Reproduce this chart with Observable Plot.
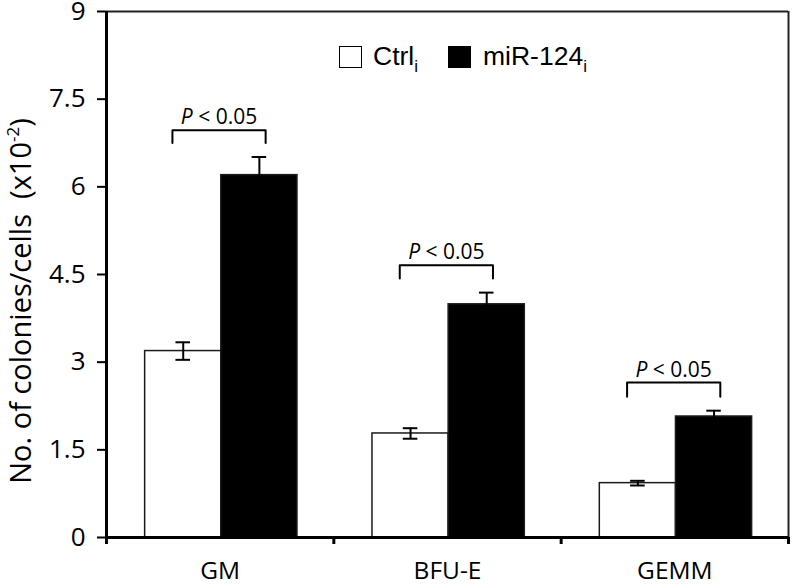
<!DOCTYPE html>
<html>
<head>
<meta charset="utf-8">
<script src="https://cdn.jsdelivr.net/npm/d3@7"></script>
<script src="https://cdn.jsdelivr.net/npm/@observablehq/plot@0.6"></script>
<style>
  body { margin: 0; background: #fff; }
  #wrap { position: relative; width: 792px; height: 586px; overflow: hidden; background: #fff; }
  #wrap svg { overflow: visible; }
  #ylabel { position: absolute; left: 19px; top: 301px; transform: translate(-50%, -50%) rotate(-90deg);
    white-space: nowrap; font-family: "Open Sans", sans-serif; font-size: 29px; line-height: 1; color: #000; }
  #ylabel sup { font-size: 17px; vertical-align: 12px; line-height: 0; }
  #legend { position: absolute; left: 339px; top: 41px; display: flex; align-items: center;
    font-family: "Liberation Sans", Arial, sans-serif; font-size: 26.5px; color: #000; }
  #legend .sw { width: 23px; height: 22px; border: 1.5px solid #000; box-sizing: border-box; display: inline-block; }
  #legend sub { font-size: 17px; vertical-align: -7px; line-height: 0; }
  #legend .item { display: flex; align-items: center; }
</style>
</head>
<body>
<div id="wrap"></div>
<script>
const categories = ["GM", "BFU-E", "GEMM"];
const seriesNames = ["Ctrl", "miR-124"];
const ctrlMean = [3.19, 1.78, 0.93];
const ctrlErr = [0.15, 0.09, 0.04];
const mirMean = [6.20, 3.99, 2.07];
const mirErr = [0.31, 0.20, 0.10];
const bracketTop = [6.97, 4.66, 2.65];
const bracketEnd = [6.75, 4.43, 2.41];
const pLabels = ["P < 0.05", "P < 0.05", "P < 0.05"];
const yTicks = [0, 1.5, 3, 4.5, 6, 7.5, 9];

// layout within each category band (band = 1 unit on x)
const barStart = 0.17, barMid = 0.505, barEnd = 0.84;
const capHalf = 0.032;
const brL = 0.29, brR = 0.70;

const bars = [];
categories.forEach((c, i) => {
  bars.push({cat: c, s: seriesNames[0], x1: i + barStart, x2: i + barMid, v: ctrlMean[i], e: ctrlErr[i]});
  bars.push({cat: c, s: seriesNames[1], x1: i + barMid, x2: i + barEnd, v: mirMean[i], e: mirErr[i]});
});
bars.forEach(d => { d.xc = (d.x1 + d.x2) / 2; });

const brackets = [];
categories.forEach((c, i) => {
  brackets.push({cat: c, x: i + brL, y: bracketEnd[i]});
  brackets.push({cat: c, x: i + brL, y: bracketTop[i]});
  brackets.push({cat: c, x: i + brR, y: bracketTop[i]});
  brackets.push({cat: c, x: i + brR, y: bracketEnd[i]});
});
const pData = categories.map((c, i) => ({x: i + (brL + brR) / 2, y: bracketTop[i], t: pLabels[i]}));

const chart = Plot.plot({
  width: 792,
  height: 586,
  marginLeft: 106,
  marginRight: 4,
  marginTop: 11,
  marginBottom: 49,
  style: {fontFamily: "Open Sans, sans-serif", color: "#000", background: "#fff", overflow: "visible"},
  x: {domain: [0, 3], axis: null},
  y: {domain: [0, 9], axis: null},
  marks: [
    Plot.rectY(bars, {x1: "x1", x2: "x2", y1: 0, y2: "v",
      fill: d => d.s === "Ctrl" ? "#fff" : "#000", stroke: "#1a1a1a", strokeWidth: 1.5}),
    Plot.ruleX(bars, {x: "xc", y1: d => d.v - d.e, y2: d => d.v + d.e, stroke: "#000", strokeWidth: 2}),
    Plot.ruleY(bars, {y: d => d.v + d.e, x1: d => d.xc - capHalf, x2: d => d.xc + capHalf, stroke: "#000", strokeWidth: 2}),
    Plot.ruleY(bars, {y: d => d.v - d.e, x1: d => d.xc - capHalf, x2: d => d.xc + capHalf, stroke: "#000", strokeWidth: 2}),
    Plot.line(brackets, {x: "x", y: "y", z: "cat", stroke: "#000", strokeWidth: 2}),
    Plot.text(pData, {x: "x", y: "y", text: "t", lineAnchor: "bottom", dy: -6, fontSize: 21, fill: "#000"}),
    Plot.ruleY([9], {stroke: "#222", strokeWidth: 2}),
    Plot.ruleX([3], {stroke: "#222", strokeWidth: 2}),
    Plot.ruleX([0], {stroke: "#000", strokeWidth: 3}),
    Plot.ruleY([0], {stroke: "#000", strokeWidth: 3}),
    Plot.axisY({ticks: yTicks, tickSize: 9, tickPadding: 12, tickFormat: d => String(d), fontSize: 26, strokeWidth: 2}),
    Plot.axisX({ticks: [0, 1, 2, 3], tickSize: 7, tickFormat: () => "", strokeWidth: 3}),
    Plot.axisX({ticks: categories.map((c, i) => i + 0.5), tickSize: 0, tickPadding: 24,
      tickFormat: d => categories[Math.floor(d)], fontSize: 24.5})
  ]
});

// enforce axis label font sizes (match by content)
const yTickStrings = new Set(yTicks.map(String));
const catStrings = new Set(categories);
d3.select(chart).selectAll("text").each(function () {
  const t = this.textContent.trim();
  if (yTickStrings.has(t)) this.style.fontSize = "26px";
  else if (catStrings.has(t)) this.style.fontSize = "24.5px";
});

// italic P in the significance labels
d3.select(chart).selectAll("text").each(function () {
  const t = this.textContent;
  if (t.startsWith("P <")) {
    const rest = t.slice(1);
    const sel = d3.select(this);
    sel.text(null);
    sel.append("tspan").attr("font-style", "italic").text("P");
    sel.append("tspan").text(rest);
  }
});

const wrap = document.getElementById("wrap");
wrap.appendChild(chart);

const yl = document.createElement("div");
yl.id = "ylabel";
yl.innerHTML = "No. of colonies/cells&nbsp;&nbsp;(x10<sup>-2</sup>)";
wrap.appendChild(yl);

const lg = document.createElement("div");
lg.id = "legend";
lg.innerHTML =
  '<span class="item"><span class="sw" style="background:#fff"></span><span style="margin-left:11px">' + seriesNames[0] + '<sub>i</sub></span></span>' +
  '<span class="item" style="margin-left:30px"><span class="sw" style="background:#000"></span><span style="margin-left:12px">' + seriesNames[1] + '<sub>i</sub></span></span>';
wrap.appendChild(lg);
</script>
</body>
</html>
